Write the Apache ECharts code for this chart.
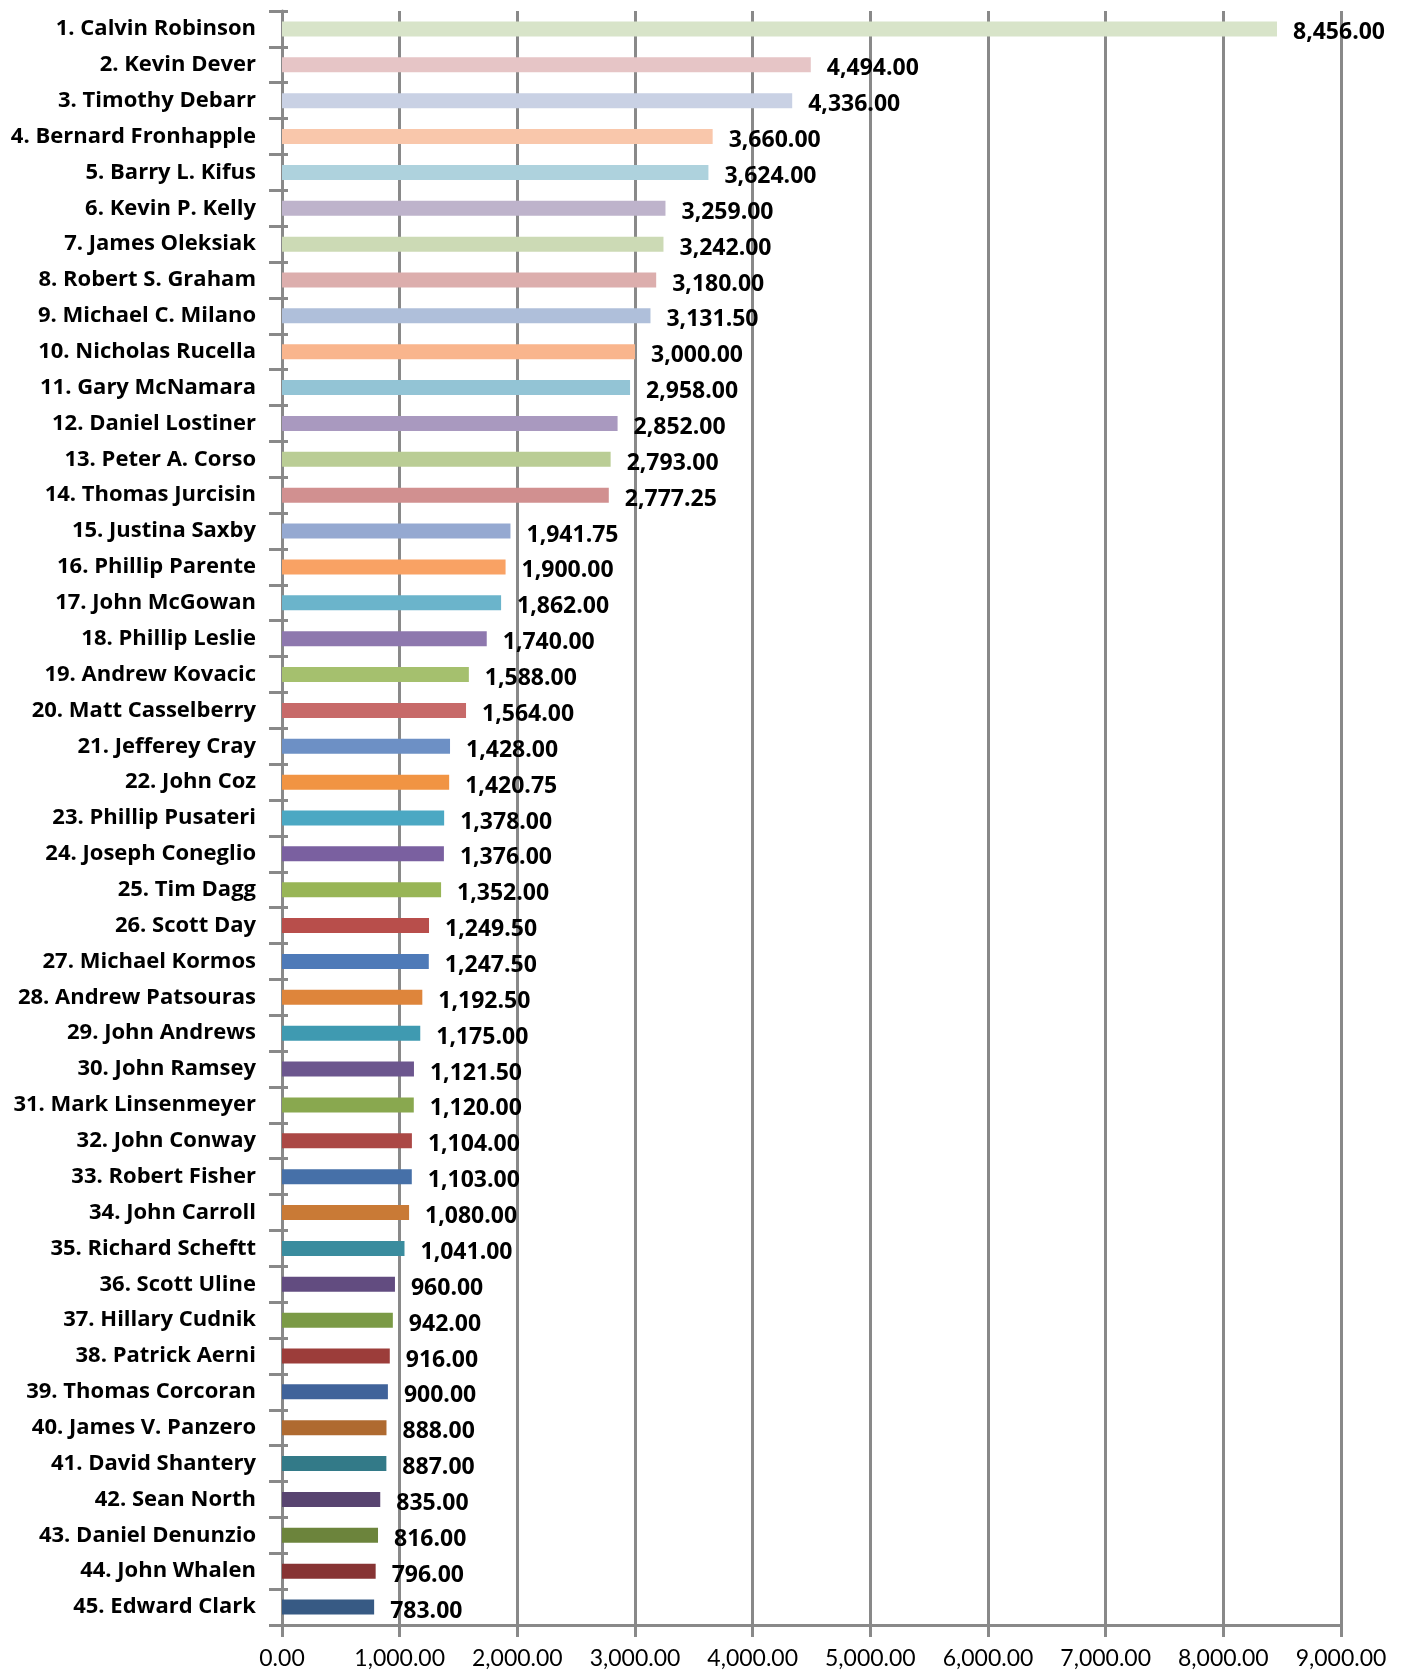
<!DOCTYPE html>
<html>
<head>
<meta charset="utf-8">
<script src="https://cdn.jsdelivr.net/npm/echarts@6/dist/echarts.min.js"></script>
<style>
html,body{margin:0;padding:0;background:#fff;}
#chart{width:1407px;height:1674px;}
</style>
</head>
<body>
<div id="chart"></div>
<script>
// names in ranking order
var names = ['Calvin Robinson','Kevin Dever','Timothy Debarr','Bernard Fronhapple','Barry L. Kifus',
  'Kevin P. Kelly','James Oleksiak','Robert S. Graham','Michael C. Milano','Nicholas Rucella',
  'Gary McNamara','Daniel Lostiner','Peter A. Corso','Thomas Jurcisin','Justina Saxby',
  'Phillip Parente','John McGowan','Phillip Leslie','Andrew Kovacic','Matt Casselberry',
  'Jefferey Cray','John Coz','Phillip Pusateri','Joseph Coneglio','Tim Dagg',
  'Scott Day','Michael Kormos','Andrew Patsouras','John Andrews','John Ramsey',
  'Mark Linsenmeyer','John Conway','Robert Fisher','John Carroll','Richard Scheftt',
  'Scott Uline','Hillary Cudnik','Patrick Aerni','Thomas Corcoran','James V. Panzero',
  'David Shantery','Sean North','Daniel Denunzio','John Whalen','Edward Clark'];

var values = [8456,4494,4336,3660,3624,3259,3242,3180,3131.5,3000,
  2958,2852,2793,2777.25,1941.75,1900,1862,1740,1588,1564,
  1428,1420.75,1378,1376,1352,1249.5,1247.5,1192.5,1175,1121.5,
  1120,1104,1103,1080,1041,960,942,916,900,888,
  887,835,816,796,783];

var barColors = ['#D8E4C9','#E6C5C6','#C9D1E4','#F9C7AB','#AED2DD','#BEB3CB','#CCDAB5','#DCAEAD','#AFBFDA','#F9B58D',
  '#93C4D5','#A999BF','#BACD95','#D19090','#95A9D1','#F9A264','#6BB4CB','#8E78AE','#A5C06E','#C76A69',
  '#6D90C5','#F19443','#4BA8C3','#7A60A0','#98B556','#B84E4B','#4E7AB8','#DE853B','#3F9AB1','#6C568E',
  '#89A84F','#AB4845','#4670A8','#C97A36','#3A8C9E','#624C80','#7B9A46','#9C3D3A','#40639A','#AF6A30',
  '#337A88','#584470','#6C843C','#873434','#375A84'];

var xTicks = [0,1000,2000,3000,4000,5000,6000,7000,8000,9000];

var categories = names.map(function(n,i){ return (i+1)+'. '+n; });

function fmt(v){
  return v.toLocaleString('en-US',{minimumFractionDigits:2,maximumFractionDigits:2});
}

var grey = '#898989';
var chart = echarts.init(document.getElementById('chart'));
chart.setOption({
  animation:false,
  grid:{left:282,right:66,top:11,bottom:49,containLabel:false},
  xAxis:{
    type:'value',
    min:xTicks[0],
    max:xTicks[xTicks.length-1],
    interval:1000,
    axisLine:{show:true,lineStyle:{color:grey,width:3}},
    axisTick:{show:true,length:12,lineStyle:{color:grey,width:3}},
    splitLine:{show:true,lineStyle:{color:grey,width:3}},
    axisLabel:{
      margin:22,
      color:'#000',
      fontFamily:'Lato',
      fontSize:23,
      formatter:function(v){ return fmt(v); }
    }
  },
  yAxis:[{
    type:'category',
    inverse:true,
    data:categories,
    axisLine:{show:true,lineStyle:{color:grey,width:3}},
    axisTick:{show:true,length:13,alignWithLabel:false,lineStyle:{color:grey,width:3}},
    axisLabel:{
      margin:26,
      color:'#000',
      fontFamily:'Open Sans',
      fontWeight:'bold',
      fontSize:22,
      padding:[4,0,0,0]
    }
  },{
    // inside half of the crossing ticks
    type:'category',
    position:'left',
    inverse:true,
    data:categories,
    axisLine:{show:false},
    axisTick:{show:true,inside:true,length:6,lineStyle:{color:grey,width:3}},
    axisLabel:{show:false},
    splitLine:{show:false}
  }],
  series:[{
    type:'bar',
    yAxisIndex:0,
    barWidth:15,
    data:values.map(function(v,i){
      return {value:v,itemStyle:{color:barColors[i]}};
    }),
    label:{
      show:true,
      position:'right',
      distance:16,
      offset:[0,4],
      color:'#000',
      fontFamily:'Open Sans',
      fontWeight:'bold',
      fontSize:23,
      formatter:function(p){ return fmt(p.value); }
    }
  }]
});
</script>
</body>
</html>
